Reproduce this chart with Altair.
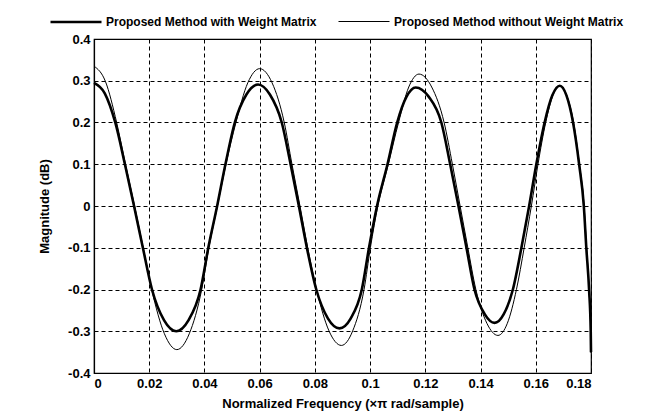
import altair as alt
import pandas as pd

# Proposed Method with Weight Matrix (thick line): frequency / magnitude
f_with = [0.0, 0.0039, 0.0077, 0.0112, 0.0145, 0.0177, 0.0210, 0.0254, 0.0298,
          0.0342, 0.0386, 0.0414, 0.0446, 0.0476, 0.0510, 0.0552, 0.0594,
          0.0637, 0.0680, 0.0712, 0.0742, 0.0771, 0.0805, 0.0847, 0.0889,
          0.0930, 0.0970, 0.0996, 0.1025, 0.1063, 0.1098, 0.1132, 0.1165,
          0.1212, 0.1258, 0.1290, 0.1320, 0.1349, 0.1378, 0.1415, 0.1451,
          0.1484, 0.1517, 0.1548, 0.1576, 0.1602, 0.1632, 0.1660, 0.1687,
          0.1711, 0.1735, 0.1757, 0.1774, 0.1783, 0.1793, 0.1799, 0.1800]
m_with = [0.295, 0.270, 0.2, 0.1, 0.0, -0.1, -0.2, -0.274, -0.300,
          -0.274, -0.2, -0.1, 0.0, 0.1, 0.2, 0.267, 0.291,
          0.267, 0.2, 0.1, 0.0, -0.1, -0.2, -0.269, -0.293,
          -0.269, -0.2, -0.1, 0.0, 0.1, 0.2, 0.262, 0.284,
          0.262, 0.2, 0.1, 0.0, -0.1, -0.2, -0.259, -0.280,
          -0.259, -0.2, -0.1, 0.0, 0.1, 0.2, 0.265, 0.288,
          0.265, 0.2, 0.1, 0.0, -0.1, -0.2, -0.3, -0.350]

# Proposed Method without Weight Matrix (thin line)
f_without = [0.0, 0.0041, 0.0082, 0.0114, 0.0147, 0.0178, 0.0209, 0.0255, 0.0300,
             0.0345, 0.0390, 0.0416, 0.0447, 0.0478, 0.0514, 0.0557, 0.0600,
             0.0645, 0.0689, 0.0717, 0.0746, 0.0774, 0.0806, 0.0851, 0.0896,
             0.0937, 0.0978, 0.1001, 0.1028, 0.1066, 0.1103, 0.1140, 0.1177,
             0.1223, 0.1268, 0.1298, 0.1326, 0.1354, 0.1383, 0.1423, 0.1463,
             0.1497, 0.1530, 0.1558, 0.1584, 0.1608, 0.1636, 0.1662, 0.1687,
             0.1712, 0.1737, 0.1758, 0.1775, 0.1784, 0.1793, 0.1799, 0.1800]
m_without = [0.335, 0.299, 0.2, 0.1, 0.0, -0.1, -0.2, -0.306, -0.344,
             -0.306, -0.2, -0.1, 0.0, 0.1, 0.2, 0.295, 0.329,
             0.295, 0.2, 0.1, 0.0, -0.1, -0.2, -0.299, -0.334,
             -0.299, -0.2, -0.1, 0.0, 0.1, 0.2, 0.285, 0.316,
             0.285, 0.2, 0.1, 0.0, -0.1, -0.2, -0.281, -0.310,
             -0.281, -0.2, -0.1, 0.0, 0.1, 0.2, 0.265, 0.288,
             0.265, 0.2, 0.1, 0.0, -0.1, -0.2, -0.3, -0.352]

series_names = ["Proposed Method with Weight Matrix", "Proposed Method without Weight Matrix"]
x_ticks = [0, 0.02, 0.04, 0.06, 0.08, 0.1, 0.12, 0.14, 0.16, 0.18]
y_ticks = [-0.4, -0.3, -0.2, -0.1, 0, 0.1, 0.2, 0.3, 0.4]

df = pd.concat([
    pd.DataFrame({"f": f_with, "m": m_with, "series": series_names[0], "order": range(len(f_with))}),
    pd.DataFrame({"f": f_without, "m": m_without, "series": series_names[1], "order": range(len(f_without))}),
])

FONT = "Liberation Sans"
label_expr = "replace(format(datum.value, '~g'), '\u2212', '-')"

legend_kw = dict(title=None, orient="none", legendX=-45, legendY=-44,
                 direction="horizontal", columns=2, columnPadding=19,
                 symbolType="stroke", symbolSize=2601, labelLimit=0,
                 labelFont=FONT, labelFontSize=12, labelFontWeight="bold",
                 labelColor="#000000", labelOffset=3)

chart = alt.Chart(df).mark_line(interpolate="monotone").encode(
    x=alt.X("f:Q",
            scale=alt.Scale(domain=[0, 0.18], nice=False),
            axis=alt.Axis(values=x_ticks, labelExpr=label_expr,
                          title="Normalized Frequency  (\u00d7\u03c0 rad/sample)")),
    y=alt.Y("m:Q",
            scale=alt.Scale(domain=[-0.4, 0.4], nice=False),
            axis=alt.Axis(values=y_ticks, labelExpr=label_expr, title="Magnitude (dB)")),
    color=alt.Color("series:N",
                    scale=alt.Scale(domain=series_names, range=["#000000", "#000000"]),
                    legend=alt.Legend(**legend_kw)),
    strokeWidth=alt.StrokeWidth("series:N",
                                scale=alt.Scale(domain=series_names, range=[2.6, 1.0]),
                                legend=alt.Legend(**legend_kw)),
    order="order:Q",
).properties(
    width=497, height=334,
    padding={"left": 86, "top": 31, "right": 40, "bottom": 40},
    autosize=alt.AutoSizeParams(type="none"),
    background="white",
).configure_view(
    stroke="#000000", strokeWidth=1.2,
).configure_axis(
    grid=True, gridColor="#000000", gridDash=[4, 3], gridWidth=1, gridOpacity=1,
    domain=True, domainColor="#000000", domainWidth=1.2,
    ticks=False,
    labelFont=FONT, labelFontSize=13, labelFontWeight="bold", labelColor="#000000",
    labelPadding=4,
    titleFont=FONT, titleFontSize=13, titleFontWeight="bold", titleColor="#000000",
).configure_axisX(
    titlePadding=7,
).configure_axisY(
    titlePadding=16,
)

chart.save("out.html", embed_options={"renderer": "svg", "actions": False})
